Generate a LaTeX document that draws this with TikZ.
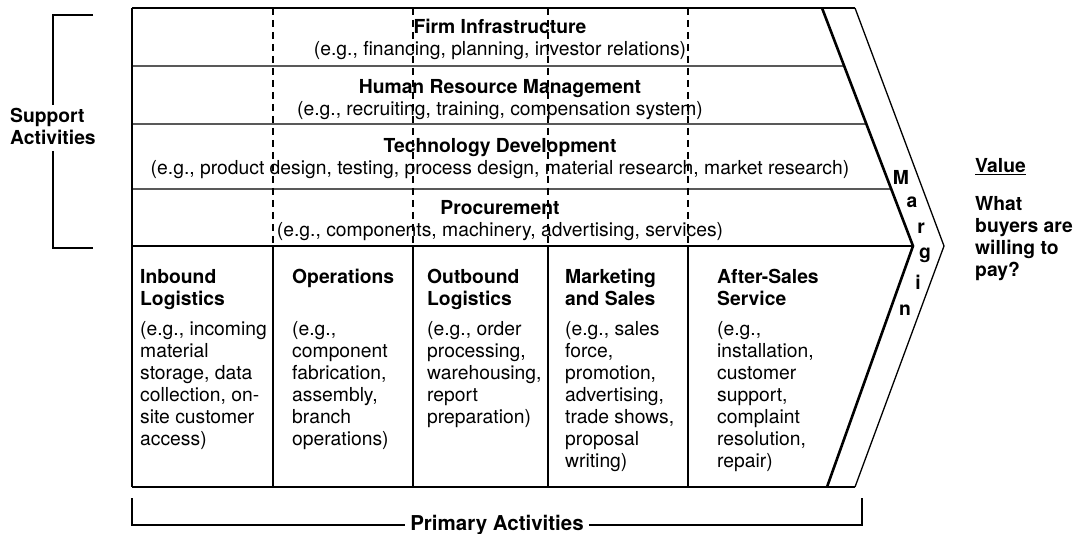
\documentclass[tikz,border=0pt]{standalone}
\usepackage{fontspec}
\setmainfont{TeX Gyre Heros}
\usetikzlibrary{calc}
\begin{document}
\begin{tikzpicture}[x=1pt,y=-1pt,
  txt/.style={font=\fontsize{19.3}{22}\selectfont, inner sep=0pt, align=left, anchor=north west},
  ctxt/.style={font=\fontsize{19.3}{22}\selectfont, inner sep=0pt, align=center, anchor=north},
  btxt/.style={font=\fontsize{19.3}{22}\selectfont\bfseries, inner sep=0pt},
  thinline/.style={line width=1.3pt},
  thickline/.style={line width=2.2pt},
  heavyline/.style={line width=2.6pt},
  dashline/.style={line width=1.8pt, dash pattern=on 7pt off 5pt},
  bracket/.style={line width=1.2pt}
]
\fill[white] (0,0) rectangle (1074,534);
\useasboundingbox (0,0) rectangle (1074,534);

% chevron reference points
\coordinate (it) at (822,8);
\coordinate (ip) at (913,246);
\coordinate (ib) at (827,487);
\coordinate (ot) at (855,8);
\coordinate (op) at (944,246);
\coordinate (ob) at (855,487);
\coordinate (tl) at (132,8);
\coordinate (ml) at (132,246);
\coordinate (bl) at (132,487);

% support texts
\node[ctxt] (firm) at (500,19) {\textbf{Firm Infrastructure}\\(e.g., financing, planning, investor relations)};
\node[ctxt] (hrm) at (500,79) {\textbf{Human Resource Management}\\(e.g., recruiting, training, compensation system)};
\node[ctxt] (tech) at (500,138) {\textbf{Technology Development}\\(e.g., product design, testing, process design, material research, market research)};
\node[ctxt] (proc) at (500,200) {\textbf{Procurement}\\(e.g., components, machinery, advertising, services)};

% primary texts
\node[txt] (inb) at (140,269) {\textbf{Inbound}\\\textbf{Logistics}\\[8pt](e.g., incoming\\material\\storage, data\\collection, on-\\site customer\\access)};
\node[txt] (ops) at (292,269) {\textbf{Operations}\\[30pt](e.g.,\\component\\fabrication,\\assembly,\\branch\\operations)};
\node[txt] (outb) at (427,269) {\textbf{Outbound}\\\textbf{Logistics}\\[8pt](e.g., order\\processing,\\warehousing,\\report\\preparation)};
\node[txt] (mkt) at (565,269) {\textbf{Marketing}\\\textbf{and Sales}\\[8pt](e.g., sales\\force,\\promotion,\\advertising,\\trade shows,\\proposal\\writing)};
\node[txt] (svc) at (717,269) {\textbf{After-Sales}\\\textbf{Service}\\[8pt](e.g.,\\installation,\\customer\\support,\\complaint\\resolution,\\repair)};

% box lines
\draw[thinline] (tl) -- (ot);
\draw[thickline] (bl) -- (ob);
\draw[thickline] (tl) -- (bl);
\draw[thinline] (132,66) -- ($(it)!{58/238}!(ip)$);
\draw[thinline] (132,124) -- ($(it)!{116/238}!(ip)$);
\draw[thinline] (132,189) -- ($(it)!{181/238}!(ip)$);
\draw[heavyline] (ml) -- (ip);
\draw[heavyline] (it) -- (ip) -- (ib);
\draw[thinline, line join=miter] (ot) -- (op) -- (ob);

% primary dividers
\foreach \x in {273,413,548,688} {
  \draw[thickline] (\x,246) -- (\x,487);
  \draw[dashline] (\x,8) -- (\x,246);
}

% margin letters
\node[btxt] (m1) at (901,177) {M};
\node[btxt] (m2) at (912,202) {a};
\node[btxt] (m3) at (921,228) {r};
\node[btxt] (m4) at (925,255) {g};
\node[btxt] (m5) at (918,282) {i};
\node[btxt] (m6) at (905,310) {n};

% value text
\node[txt, font=\fontsize{19.3}{22}\selectfont\bfseries] (val) at (975,158) {\underline{Value}\\[16pt]What\\buyers are\\willing to\\pay?};

% support bracket
\node[txt, font=\fontsize{19.3}{22}\selectfont\bfseries] (sup) at (10,108) {Support\\Activities};
\coordinate (s1) at (93,15);
\coordinate (s2) at (53,15);
\coordinate (s3) at (53,105);
\coordinate (s4) at (53,151);
\coordinate (s5) at (53,248);
\coordinate (s6) at (93,248);
\draw[bracket] (s1) -- (s2) -- (s3);
\draw[bracket] (s4) -- (s5) -- (s6);

% primary bracket
\node[btxt, font=\fontsize{20.5}{22}\selectfont\bfseries, inner sep=5pt] (prim) at (497,525) {Primary Activities};
\coordinate (p1) at (132,498);
\coordinate (p2) at (132,525);
\coordinate (p3) at (862,525);
\coordinate (p4) at (862,498);
\draw[bracket] (p1) -- (p2) -- (prim.west |- p2);
\draw[bracket] (prim.east |- p3) -- (p3) -- (p4);
\end{tikzpicture}
\end{document}
